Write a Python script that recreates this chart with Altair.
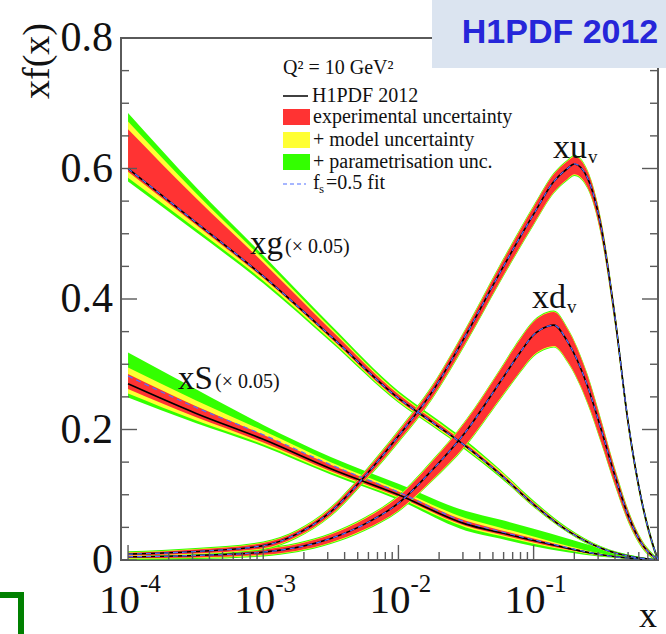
import altair as alt
import pandas as pd

SERIF = "Liberation Serif"
SANS = "Liberation Sans"

# ---------------- data ----------------
XUV = [1e-4, 3.16e-4, 1e-3, 1.78e-3, 3.16e-3, 5.62e-3, 1e-2, 1.78e-2, 3.16e-2, 5.62e-2, 0.1,
       0.141, 0.178, 0.2, 0.251, 0.316, 0.398, 0.501, 0.631, 0.794, 0.832]
UV = [0.009, 0.013, 0.022, 0.04, 0.074, 0.128, 0.19, 0.258, 0.345, 0.44, 0.53,
      0.58, 0.600, 0.607, 0.585, 0.51, 0.375, 0.21, 0.09, 0.012, 0.0]
UV_ERR_HI = [0.002, 0.003, 0.004, 0.004, 0.005, 0.006, 0.007, 0.008, 0.009, 0.01, 0.011,
             0.011, 0.011, 0.011, 0.01, 0.009, 0.008, 0.006, 0.004, 0.002, 0.0]
UV_ERR_LO = [0.002, 0.003, 0.004, 0.004, 0.005, 0.006, 0.008, 0.009, 0.011, 0.013, 0.015,
             0.016, 0.016, 0.016, 0.014, 0.012, 0.01, 0.008, 0.005, 0.002, 0.0]

XDV = [1e-4, 3.16e-4, 1e-3, 3.16e-3, 5.62e-3, 1e-2, 1.78e-2, 3.16e-2, 5.62e-2, 7.94e-2,
       0.1, 0.126, 0.141, 0.178, 0.251, 0.316, 0.398, 0.501, 0.631, 0.794, 0.832]
DV = [0.005, 0.007, 0.012, 0.033, 0.055, 0.087, 0.138, 0.197, 0.272, 0.318,
      0.345, 0.358, 0.36, 0.335, 0.266, 0.2, 0.13, 0.068, 0.025, 0.003, 0.0]
DV_ERR_HI = [0.002, 0.003, 0.004, 0.006, 0.008, 0.01, 0.013, 0.016, 0.018, 0.02,
             0.02, 0.02, 0.02, 0.019, 0.016, 0.013, 0.01, 0.007, 0.004, 0.001, 0.0]
DV_ERR_LO = [0.002, 0.003, 0.004, 0.006, 0.008, 0.011, 0.015, 0.02, 0.025, 0.029,
             0.031, 0.032, 0.032, 0.03, 0.025, 0.019, 0.013, 0.008, 0.004, 0.001, 0.0]

XG = [1e-4, 3.16e-4, 1e-3, 3.16e-3, 1e-2, 1.78e-2, 3.16e-2, 5.62e-2, 0.1, 0.178, 0.316, 0.562, 0.832]
G = [0.600, 0.518, 0.435, 0.343, 0.248, 0.211, 0.174, 0.132, 0.085, 0.045, 0.018, 0.004, 0.0]
G_RED_LO = [0.595, 0.514, 0.432, 0.340, 0.245, 0.209, 0.172, 0.130, 0.083, 0.044, 0.017, 0.004, 0.0]
G_RED_HI = [0.66, 0.555, 0.456, 0.353, 0.254, 0.216, 0.178, 0.135, 0.088, 0.047, 0.019, 0.005, 0.0]
G_YEL_LO = [0.586, 0.508, 0.428, 0.337, 0.243, 0.207, 0.170, 0.129, 0.082, 0.043, 0.016, 0.003, 0.0]
G_YEL_HI = [0.672, 0.563, 0.461, 0.356, 0.256, 0.218, 0.180, 0.137, 0.089, 0.048, 0.02, 0.005, 0.0]
G_GRN_LO = [0.58, 0.503, 0.424, 0.334, 0.241, 0.205, 0.168, 0.127, 0.081, 0.042, 0.015, 0.003, 0.0]
G_GRN_HI = [0.685, 0.572, 0.467, 0.360, 0.259, 0.221, 0.183, 0.139, 0.091, 0.05, 0.021, 0.006, 0.0]

XS = [1e-4, 3.16e-4, 1e-3, 3.16e-3, 1e-2, 3.16e-2, 5.62e-2, 0.1, 0.178, 0.316, 0.562, 0.832]
S = [0.27, 0.225, 0.185, 0.14, 0.10, 0.055, 0.042, 0.03, 0.018, 0.008, 0.002, 0.0]
S_FS = [0.282, 0.234, 0.192, 0.146, 0.104, 0.058, 0.044, 0.031, 0.019, 0.008, 0.002, 0.0]
S_RED_LO = [0.262, 0.219, 0.18, 0.136, 0.097, 0.052, 0.039, 0.027, 0.016, 0.007, 0.002, 0.0]
S_RED_HI = [0.285, 0.236, 0.192, 0.146, 0.105, 0.06, 0.046, 0.033, 0.02, 0.009, 0.003, 0.0]
S_YEL_LO = [0.255, 0.214, 0.177, 0.134, 0.095, 0.05, 0.037, 0.025, 0.015, 0.006, 0.001, 0.0]
S_YEL_HI = [0.295, 0.245, 0.198, 0.15, 0.108, 0.064, 0.05, 0.036, 0.022, 0.01, 0.003, 0.0]
S_GRN_LO = [0.249, 0.21, 0.174, 0.131, 0.092, 0.045, 0.033, 0.021, 0.012, 0.005, 0.001, 0.0]
S_GRN_HI = [0.318, 0.262, 0.207, 0.158, 0.117, 0.075, 0.062, 0.048, 0.033, 0.018, 0.006, 0.0]

X_MAJOR = [1e-4, 1e-3, 1e-2, 1e-1]
X_EXP = ["-4", "-3", "-2", "-1"]
X_MINOR = [m * d for d in [1e-4, 1e-3, 1e-2] for m in range(2, 10)] + [0.2, 0.3, 0.4, 0.5, 0.6, 0.7, 0.8]
Y_MAJOR = [0, 0.2, 0.4, 0.6, 0.8]
Y_LABELS = ["0", "0.2", "0.4", "0.6", "0.8"]
Y_MINOR = [0.05, 0.1, 0.15, 0.25, 0.3, 0.35, 0.45, 0.5, 0.55, 0.65, 0.7, 0.75]

XDOM = [8.87e-5, 0.832]
W, H = 537, 522

RED, YEL, GRN, BLUE = "#ff3333", "#ffff33", "#33ff00", "#4f6fff"

# ---------------- build tables ----------------
def table(xs, c, rlo, rhi, ylo, yhi, glo, ghi, fs):
    return pd.DataFrame(dict(x=xs, c=c, rlo=rlo, rhi=rhi, ylo=ylo, yhi=yhi,
                             glo=glo, ghi=ghi, fs=fs))

uv_rlo = [a - b for a, b in zip(UV, UV_ERR_LO)]
uv_rhi = [a + b for a, b in zip(UV, UV_ERR_HI)]
dv_rlo = [a - b for a, b in zip(DV, DV_ERR_LO)]
dv_rhi = [a + b for a, b in zip(DV, DV_ERR_HI)]
tables = [
    table(XS, S, S_RED_LO, S_RED_HI, S_YEL_LO, S_YEL_HI, S_GRN_LO, S_GRN_HI, S_FS),
    table(XG, G, G_RED_LO, G_RED_HI, G_YEL_LO, G_YEL_HI, G_GRN_LO, G_GRN_HI, G),
    table(XDV, DV, dv_rlo, dv_rhi, [v - 0.001 for v in dv_rlo], [v + 0.001 for v in dv_rhi],
          [v - 0.0025 for v in dv_rlo], [v + 0.0025 for v in dv_rhi], DV),
    table(XUV, UV, uv_rlo, uv_rhi, [v - 0.001 for v in uv_rlo], [v + 0.001 for v in uv_rhi],
          [v - 0.0025 for v in uv_rlo], [v + 0.0025 for v in uv_rhi], UV),
]

xs = alt.Scale(type="log", domain=XDOM)
ys = alt.Scale(domain=[0, 0.8])
X = alt.X("x:Q", scale=xs, axis=None)

layers = []
for d in tables:
    base = alt.Chart(d)
    for lo, hi, col in [("glo", "ghi", GRN), ("ylo", "yhi", YEL), ("rlo", "rhi", RED)]:
        layers.append(base.mark_area(color=col, opacity=1, interpolate="monotone", clip=True).encode(
            x=X, y=alt.Y(f"{lo}:Q", scale=ys, axis=None), y2=alt.Y2(f"{hi}:Q")))
for d in tables:
    base = alt.Chart(d)
    layers.append(base.mark_line(color="#000000", strokeWidth=1.6, interpolate="monotone", clip=True).encode(
        x=X, y=alt.Y("c:Q", scale=ys, axis=None)))
    layers.append(base.mark_line(color=BLUE, strokeWidth=1.2, strokeDash=[5, 4], interpolate="monotone", clip=True).encode(
        x=X, y=alt.Y("fs:Q", scale=ys, axis=None)))

# ---------------- ticks ----------------
FRAME = "#5a5a5a"
xmaj = pd.DataFrame({"x": X_MAJOR, "e": X_EXP})
xmin = pd.DataFrame({"x": X_MINOR})
ymaj = pd.DataFrame({"y": Y_MAJOR, "l": Y_LABELS})
ymin = pd.DataFrame({"y": Y_MINOR})
Y = alt.Y("y:Q", scale=ys, axis=None)
for d, ln in [(xmaj, 15), (xmin, 8)]:
    layers.append(alt.Chart(d).mark_rule(color=FRAME, strokeWidth=1.4).encode(
        x=X, y=alt.value(H), y2=alt.value(H - ln)))
for d, ln in [(ymaj, 16), (ymin, 8)]:
    layers.append(alt.Chart(d).mark_rule(color=FRAME, strokeWidth=1.4).encode(
        y=Y, x=alt.value(0), x2=alt.value(ln)))
    layers.append(alt.Chart(d).mark_rule(color=FRAME, strokeWidth=1.4).encode(
        y=Y, x=alt.value(W), x2=alt.value(W - ln)))

# tick labels
layers.append(alt.Chart(ymaj).mark_text(font=SERIF, fontSize=42, align="right", baseline="middle", color="#111").encode(
    y=Y, x=alt.value(-8), text="l:N"))
layers.append(alt.Chart(xmaj).mark_text(font=SERIF, fontSize=41, align="right", baseline="middle", color="#111", dx=12).encode(
    x=X, y=alt.value(H + 41), text=alt.value("10")))
layers.append(alt.Chart(xmaj).mark_text(font=SERIF, fontSize=25, align="left", baseline="middle", color="#111", dx=12).encode(
    x=X, y=alt.value(H + 24), text="e:N"))

def txt(s, x, y, size, font=SERIF, align="left", color="#111", weight="normal", angle=0):
    return alt.Chart(alt.Data(values=[{"t": s}])).mark_text(
        font=font, fontSize=size, align=align, baseline="middle", color=color,
        fontWeight=weight, angle=angle).encode(x=alt.value(x), y=alt.value(y), text="t:N")

def rule(x1, x2, y1, y2, color, width, dash=None):
    kw = dict(color=color, strokeWidth=width)
    if dash:
        kw["strokeDash"] = dash
    return alt.Chart(alt.Data(values=[{}])).mark_rule(**kw).encode(
        x=alt.value(x1), x2=alt.value(x2), y=alt.value(y1), y2=alt.value(y2))

def box(x1, x2, y1, y2, color):
    return alt.Chart(alt.Data(values=[{}])).mark_rect(color=color).encode(
        x=alt.value(x1), x2=alt.value(x2), y=alt.value(y1), y2=alt.value(y2))

# axis titles
layers.append(txt("xf(x)", -83, 23, 38, align="center", angle=270))
layers.append(txt("x", 527, 578, 36, align="center"))

# curve labels
layers.append(txt("xu", 432, 110, 34))
layers.append(txt("v", 467, 119, 19))
layers.append(txt("xd", 411, 260, 34))
layers.append(txt("v", 446, 269, 19))
layers.append(txt("xg", 129, 206, 33))
layers.append(txt("(\u00d7 0.05)", 164, 209, 20))
layers.append(txt("xS", 57, 341, 33))
layers.append(txt("(\u00d7 0.05)", 94, 344, 20))

# legend
layers.append(txt("Q\u00b2 = 10 GeV\u00b2", 162, 30, 20))
layers.append(rule(162, 187, 58, 58, "#000", 1.5))
layers.append(txt("H1PDF 2012", 191, 58, 20))
for yc, col, lab in [(79, RED, "experimental uncertainty"), (102, YEL, "+ model uncertainty"),
                     (124, GRN, "+ parametrisation unc.")]:
    layers.append(box(162, 189, yc - 8, yc + 8, col))
    layers.append(txt(lab, 192, yc, 20))
layers.append(rule(162, 185, 146, 146, BLUE, 1.2, [4, 3]))
layers.append(txt("f", 192, 145, 20))
layers.append(txt("s", 198, 151, 13))
layers.append(txt("=0.5 fit", 205, 145, 20))

# top-right badge
layers.append(box(311, 545, -38, 30, "#dbe4f0"))
layers.append(txt("H1PDF 2012", 439, -5, 34, font=SANS, align="center", color="#2626d9", weight="bold"))

# green bracket at lower-left
layers.append(rule(-121, -97, 557, 557, "#008000", 6))
layers.append(rule(-100, -100, 554, 600, "#008000", 6))

chart = alt.layer(*layers).properties(
    width=W, height=H,
    autosize=alt.AutoSizeParams(type="none"),
    padding={"left": 121, "top": 38, "right": 8, "bottom": 74},
).configure_view(stroke=FRAME, strokeWidth=2)

chart.save("out.html", embed_options={"renderer": "svg", "actions": False})
